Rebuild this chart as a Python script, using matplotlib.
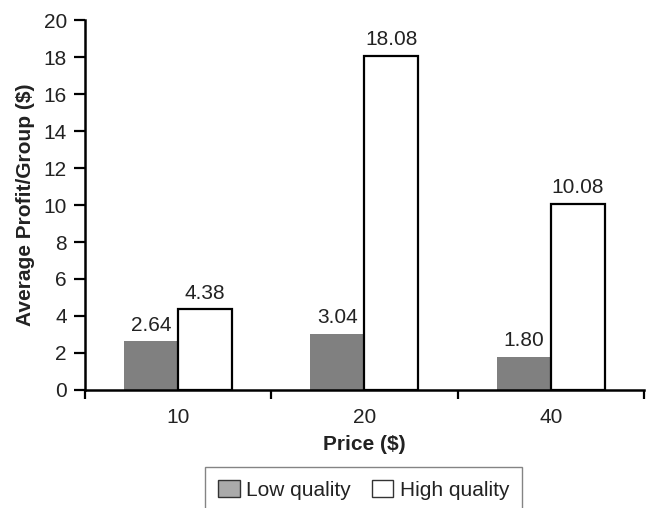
import numpy as np
import matplotlib.pyplot as plt
from matplotlib.patches import Patch

plt.rcParams['font.family'] = ['Liberation Sans', 'DejaVu Sans']

# average profit per group at each price level
prices = ['10', '20', '40']
low_quality = [2.64, 3.04, 1.80]
high_quality = [4.38, 18.08, 10.08]
series_names = ['Low quality', 'High quality']

TXT = '#222222'

fig = plt.figure(figsize=(6.51, 5.08), dpi=100)
ax = fig.add_axes([0.1306, 0.2323, 0.8584, 0.7283])

x = np.arange(len(prices))
w = 0.29
bars_low = ax.bar(x - w / 2, low_quality, w, color='#808080', edgecolor='none')
bars_high = ax.bar(x + w / 2, high_quality, w, color='white', edgecolor='black',
                   linewidth=1.6)

# value labels above each bar
for bars, vals in [(bars_low, low_quality), (bars_high, high_quality)]:
    for b, v in zip(bars, vals):
        ax.annotate(f'{v:.2f}', (b.get_x() + b.get_width() / 2, v),
                    xytext=(0, 7.5), textcoords='offset points',
                    ha='center', va='baseline', fontsize=15, color=TXT)

ax.set_xlim(-0.5, 2.5)
ax.set_ylim(0, 20)
ax.set_yticks(range(0, 21, 2))

# category labels centred, tick marks on the boundaries
ax.set_xticks(np.arange(-0.5, 3, 1))
ax.set_xticklabels([])
ax.set_xticks(x, minor=True)
ax.set_xticklabels(prices, minor=True)
ax.tick_params(axis='x', which='minor', length=0, pad=13, labelsize=15,
               labelcolor=TXT)
ax.tick_params(axis='x', which='major', length=6.5, width=1.6, direction='out')
ax.tick_params(axis='y', length=8, width=1.6, direction='out', labelsize=15,
               pad=5, labelcolor=TXT)

for side in ['top', 'right']:
    ax.spines[side].set_visible(False)
for side in ['left', 'bottom']:
    ax.spines[side].set_linewidth(1.8)

ax.set_xlabel('Price ($)', fontsize=15, fontweight='bold', labelpad=6, color=TXT)
ax.set_ylabel('Average Profit/Group ($)', fontsize=15, fontweight='bold',
              labelpad=6, color=TXT)

handles = [Patch(facecolor='#aaaaaa', edgecolor='#333333', linewidth=1),
           Patch(facecolor='white', edgecolor='#333333', linewidth=1)]
leg = fig.legend(handles, series_names, loc='upper center',
                 bbox_to_anchor=(363.5 / 651, 1 - 467 / 508), ncol=2,
                 fontsize=15, frameon=True, fancybox=False, borderpad=0.6,
                 borderaxespad=0, handlelength=1.05, handleheight=0.95,
                 handletextpad=0.3, columnspacing=1.0, labelcolor=TXT)
leg.get_frame().set_edgecolor('#666666')
leg.get_frame().set_linewidth(1.0)

fig.savefig('out.png', dpi=100)
